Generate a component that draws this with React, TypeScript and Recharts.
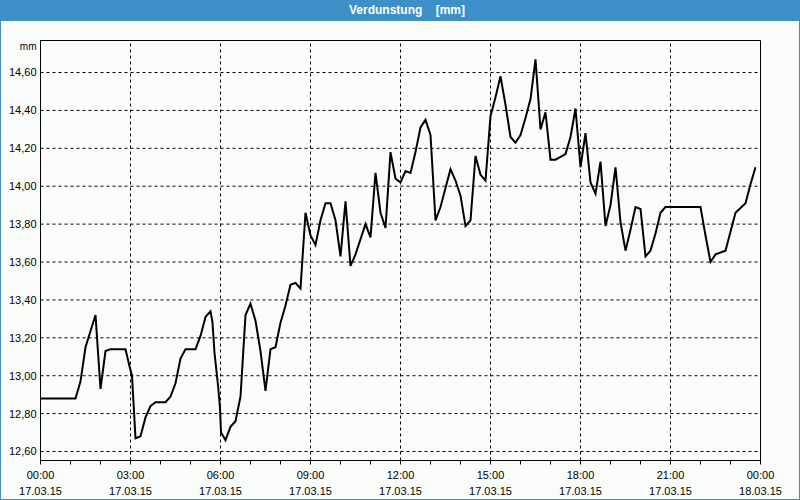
import React from 'react';
import { LineChart, Line, XAxis, YAxis, CartesianGrid, ReferenceLine, ReferenceArea, Label } from 'recharts';

// minutes since 17.03.15 00:00
const MINUTES = [
  0, 70, 80, 90, 110, 120, 130, 140, 170, 178, 183, 190, 200, 210, 220, 230, 250, 260, 270, 280,
  290, 310, 320, 330, 340, 344, 348, 355, 359, 361, 370, 380, 390, 400, 410, 420, 430, 440, 450, 460,
  470, 480, 490, 500, 510, 520, 530, 540, 550, 560, 570, 580, 590, 600, 610, 620, 630, 650, 660, 670,
  680, 690, 700, 710, 720, 730, 740, 750, 760, 770, 780, 790, 800, 810, 820, 830, 840, 850, 860, 870,
  880, 890, 900, 910, 920, 930, 940, 950, 960, 970, 980, 990, 1000, 1010, 1020, 1030, 1050, 1060, 1070, 1080,
  1090, 1100, 1110, 1120, 1130, 1140, 1150, 1160, 1170, 1180, 1190, 1200, 1210, 1220, 1230, 1240, 1250, 1280, 1320, 1330,
  1340, 1350, 1370, 1390, 1410, 1420, 1430,
];

// Verdunstung [mm]
const VALUES = [
  12.88, 12.88, 12.97, 13.15, 13.32, 12.93, 13.13, 13.14, 13.14, 13.05, 13.0, 12.67, 12.68, 12.78, 12.84, 12.86, 12.86, 12.89, 12.96, 13.09,
  13.14, 13.14, 13.21, 13.31, 13.34, 13.28, 13.12, 12.95, 12.83, 12.7, 12.66, 12.73, 12.76, 12.89, 13.32, 13.38, 13.29, 13.13, 12.92, 13.14,
  13.15, 13.28, 13.37, 13.48, 13.49, 13.46, 13.86, 13.74, 13.69, 13.82, 13.91, 13.91, 13.82, 13.63, 13.92, 13.58, 13.64, 13.8, 13.73, 14.07,
  13.86, 13.78, 14.18, 14.04, 14.02, 14.08, 14.07, 14.18, 14.31, 14.35, 14.27, 13.82, 13.89, 13.99, 14.09, 14.03, 13.95, 13.79, 13.82, 14.16,
  14.06, 14.03, 14.37, 14.47, 14.58, 14.43, 14.26, 14.23, 14.27, 14.36, 14.46, 14.67, 14.3, 14.39, 14.14, 14.14, 14.17, 14.26, 14.41, 14.1,
  14.28, 14.02, 13.96, 14.13, 13.79, 13.9, 14.1, 13.81, 13.66, 13.77, 13.89, 13.88, 13.63, 13.66, 13.75, 13.86, 13.89, 13.89, 13.89, 13.74,
  13.6, 13.64, 13.66, 13.86, 13.91, 14.01, 14.1,
];

const Y_TICKS = [12.6, 12.8, 13.0, 13.2, 13.4, 13.6, 13.8, 14.0, 14.2, 14.4, 14.6];
const HOUR_TICKS = [0, 60, 120, 180, 240, 300, 360, 420, 480, 540, 600, 660, 720, 780, 840, 900, 960, 1020, 1080, 1140, 1200, 1260, 1320, 1380, 1440];
const LABEL_TICKS = [0, 180, 360, 540, 720, 900, 1080, 1260, 1440];
const TIME_LABELS = ['00:00', '03:00', '06:00', '09:00', '12:00', '15:00', '18:00', '21:00', '00:00'];
const DATE_LABELS = ['17.03.15', '17.03.15', '17.03.15', '17.03.15', '17.03.15', '17.03.15', '17.03.15', '17.03.15', '18.03.15'];
const GRID_TIMES = [180, 360, 540, 720, 900, 1080, 1260];

const Y_DOMAIN: [number, number] = [12.5525, 14.769];
const FONT = '"Liberation Sans", Arial, sans-serif';

const data = MINUTES.map((m, i) => ({ t: m, v: VALUES[i] }));

function TimeTick({ x, y, payload }: any) {
  const idx = LABEL_TICKS.indexOf(payload.value);
  if (idx < 0) return <g />;
  return (
    <g fontFamily={FONT} fontSize={11} fill="#000">
      <text x={x} y={y + 12} textAnchor="middle">{TIME_LABELS[idx]}</text>
      <text x={x} y={y + 28} textAnchor="middle">{DATE_LABELS[idx]}</text>
    </g>
  );
}

export default function App() {
  return (
    <div style={{ position: 'absolute', left: 0, top: 0, width: 800, height: 500, background: '#fafcfa', overflow: 'hidden' }}>
      <div
        style={{
          position: 'absolute', left: 0, top: 0, width: 800, height: 21, background: '#3d8fc7',
          color: '#fff', fontFamily: FONT, fontWeight: 'bold', fontSize: 12, lineHeight: '21px',
          textAlign: 'center', whiteSpace: 'pre', paddingLeft: 14, boxSizing: 'border-box',
        }}
      >
        {'Verdunstung    [mm]'}
      </div>
      <div style={{ position: 'absolute', left: 0, top: 0 }}>
        <LineChart width={800} height={500} data={data} margin={{ top: 40.5, right: 39.5, left: 0, bottom: 0 }}>
          <CartesianGrid vertical={false} stroke="#000" strokeDasharray="3 3" />
          {GRID_TIMES.map((g) => (
            <ReferenceLine key={g} x={g} stroke="#000" strokeDasharray="3 3" />
          ))}
          <XAxis
            dataKey="t"
            type="number"
            domain={[0, 1440]}
            ticks={HOUR_TICKS}
            interval={0}
            height={39.5}
            axisLine={{ stroke: '#000' }}
            tickLine={{ stroke: '#000' }}
            tickSize={4}
            tickMargin={2}
            tick={<TimeTick />}
          />
          <YAxis
            type="number"
            domain={Y_DOMAIN}
            allowDataOverflow
            ticks={Y_TICKS}
            width={40.5}
            axisLine={{ stroke: '#000' }}
            tickLine={false}
            tickSize={2}
            tickMargin={2}
            tick={{ fontFamily: FONT, fontSize: 11, fill: '#000' }}
            tickFormatter={(v: number) => v.toFixed(2).replace('.', ',')}
          >
            <Label
              content={(p: any) => (
                <text x={p.viewBox.x + p.viewBox.width - 4} y={p.viewBox.y + 9} textAnchor="end" fontFamily={FONT} fontSize={10} fill="#000">
                  mm
                </text>
              )}
            />
          </YAxis>
          <ReferenceArea x1={0} x2={1440} y1={Y_DOMAIN[0]} y2={Y_DOMAIN[1]} fill="none" stroke="#000" strokeOpacity={1} />
          <Line type="linear" dataKey="v" stroke="#000" strokeWidth={2} dot={false} isAnimationActive={false} />
        </LineChart>
      </div>
      <div style={{ position: 'absolute', left: 0, top: 0, width: 800, height: 500, border: '1px solid #3d8fc7', boxSizing: 'border-box', pointerEvents: 'none' }} />
    </div>
  );
}
